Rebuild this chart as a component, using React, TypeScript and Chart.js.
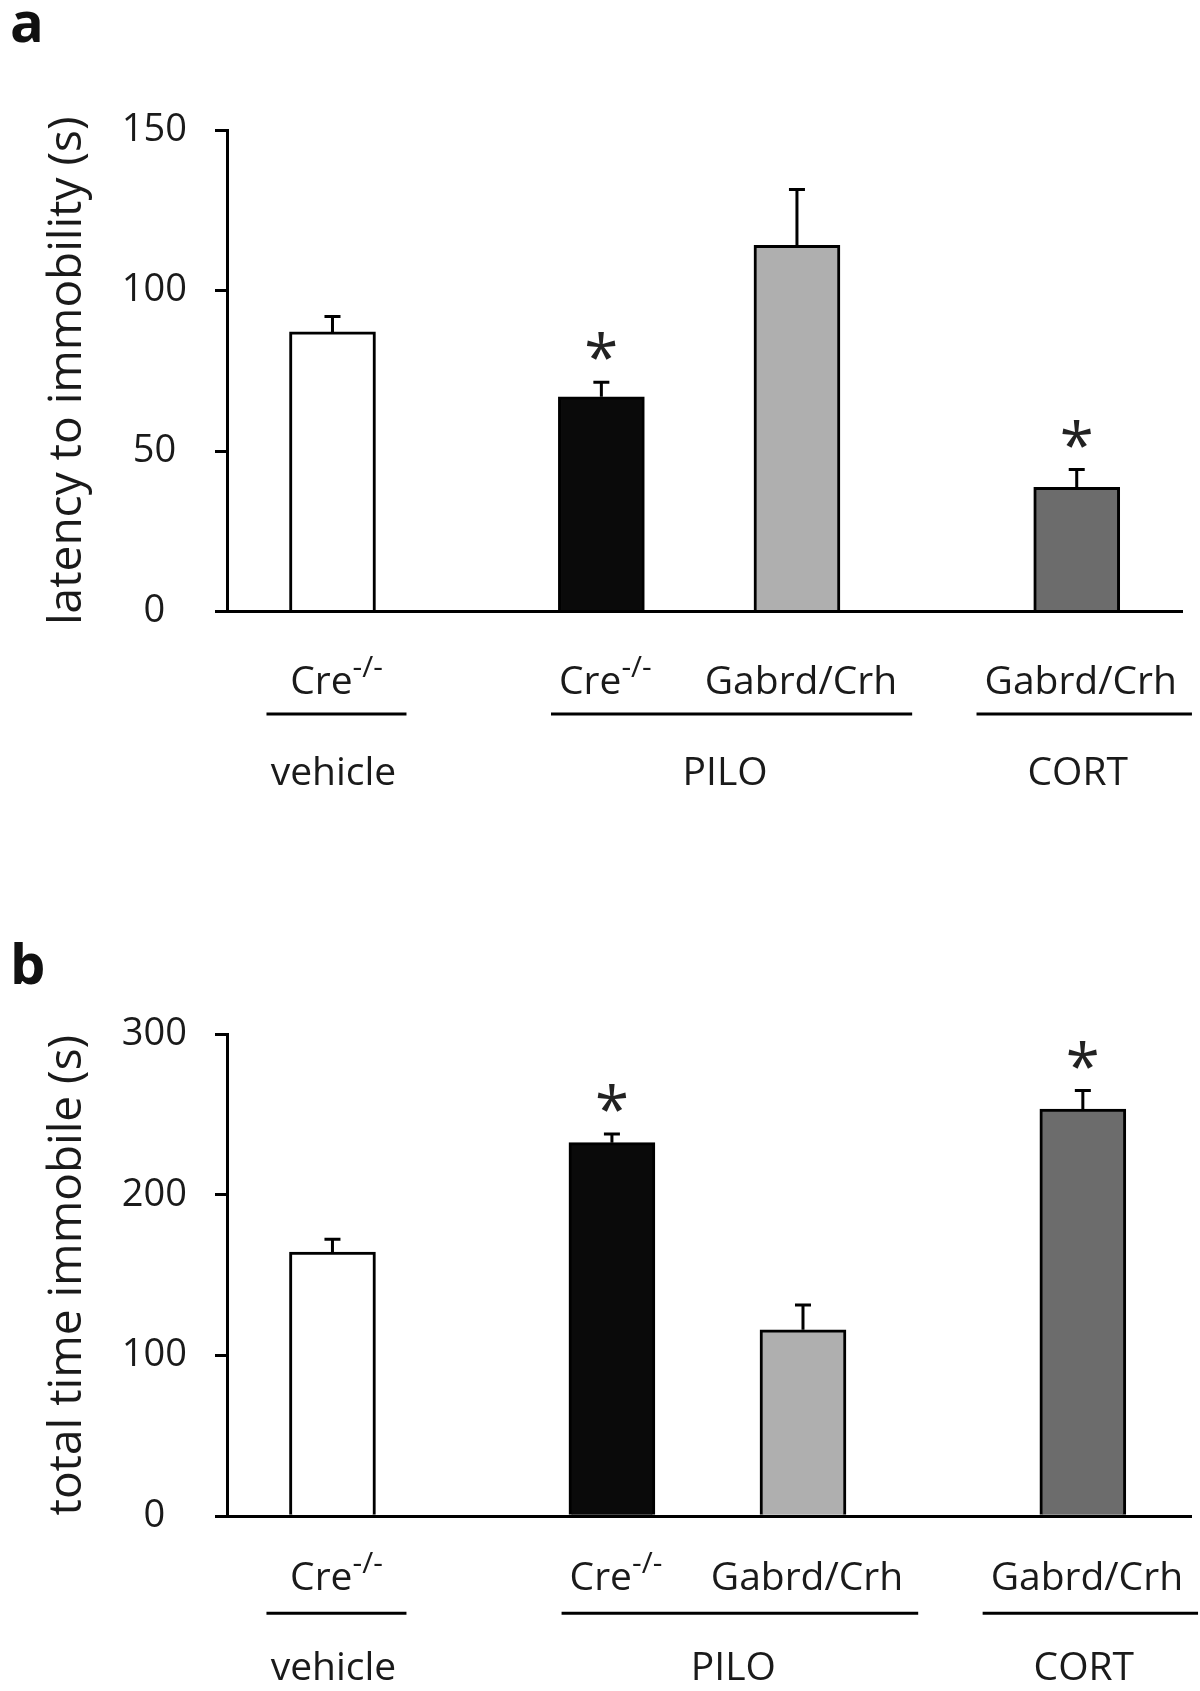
import React, { useEffect, useRef } from "react";
import { Chart, registerables } from "chart.js";

Chart.register(...registerables);

// ---------------- data ----------------
const genotypes = ["Cre-/-", "Cre-/-", "Gabrd/Crh", "Gabrd/Crh"];
const treatments = ["vehicle", "PILO", "PILO", "CORT"];

const latencyMean = [87.1, 66.9, 114.1, 38.7];
const latencySem = [4.8, 4.5, 17.4, 5.5];
const latencySignificant = [false, true, false, true];
const latencyTicks = [0, 50, 100, 150];

const immobileMean = [164.3, 232.4, 116.0, 253.3];
const immobileSem = [8.1, 5.4, 15.5, 11.5];
const immobileSignificant = [false, true, false, true];
const immobileTicks = [0, 100, 200, 300];

// ---------------- styles / layout ----------------
const FONT = '"Open Sans", "Noto Sans", "DejaVu Sans", sans-serif';
const TEXT = "#1a1a1a";
const BAR_FILLS = ["#ffffff", "#0a0a0a", "#afafaf", "#6c6c6c"];

type PanelCfg = {
  letter: string;
  top: number;
  height: number;
  letterBaseline: number;
  chartTop: number;
  chartBottom: number;
  chartRight: number;
  slots: number[];
  means: number[];
  sems: number[];
  sig: boolean[];
  ticks: number[];
  yTitle: string;
  genoBaseline: number;
  lineY: number;
  groupBaseline: number;
};

const panels: PanelCfg[] = [
  {
    letter: "a",
    top: 0,
    height: 850,
    letterBaseline: 41.5,
    chartTop: 130,
    chartBottom: 611.5,
    chartRight: 1182.5,
    slots: [1.104, 3.918, 5.965, 8.893],
    means: latencyMean,
    sems: latencySem,
    sig: latencySignificant,
    ticks: latencyTicks,
    yTitle: "latency to immobility (s)",
    genoBaseline: 694,
    lineY: 714,
    groupBaseline: 785,
  },
  {
    letter: "b",
    top: 850,
    height: 841,
    letterBaseline: 133.6,
    chartTop: 184,
    chartBottom: 666.3,
    chartRight: 1191,
    slots: [1.094, 3.993, 5.975, 8.878],
    means: immobileMean,
    sems: immobileSem,
    sig: immobileSignificant,
    ticks: immobileTicks,
    yTitle: "total time immobile (s)",
    genoBaseline: 740,
    lineY: 763.3,
    groupBaseline: 830,
  },
];

const BAR_W = 86;
const LABEL_SIZE = 39;
const SUP_SIZE = 30;
const LABEL_SHIFT = 4;
const LINE_PAD_L = 8;
const LINE_PAD_R = 15;
const LINE_MIN_W = 140;

function splitLabel(s: string): [string, string] {
  if (s.endsWith("-/-")) return [s.slice(0, -3), "-/-"];
  return [s, ""];
}

function overlayPlugin(cfg: PanelCfg) {
  return {
    id: "overlay" + cfg.letter,
    afterDatasetsDraw(chart: any) {
      const ctx = chart.ctx as CanvasRenderingContext2D;
      const y = chart.scales.y;
      const meta = chart.getDatasetMeta(0);
      ctx.save();
      meta.data.forEach((bar: any, i: number) => {
        const x = bar.x;
        const top = y.getPixelForValue(cfg.means[i] + cfg.sems[i]);
        ctx.strokeStyle = "#000";
        ctx.lineWidth = 3;
        ctx.lineCap = "butt";
        ctx.beginPath();
        ctx.moveTo(x, bar.y);
        ctx.lineTo(x, top);
        ctx.moveTo(x - 8, top);
        ctx.lineTo(x + 8, top);
        ctx.stroke();
        if (cfg.sig[i]) {
          ctx.font = `100px ${FONT}`;
          const m = ctx.measureText("*");
          const w100 = m.actualBoundingBoxLeft + m.actualBoundingBoxRight;
          const size = (100 * 29) / w100;
          ctx.font = `${size}px ${FONT}`;
          const mm = ctx.measureText("*");
          const cy = top - 36;
          ctx.fillStyle = "#222";
          ctx.textAlign = "left";
          ctx.textBaseline = "alphabetic";
          const gx = x - (mm.actualBoundingBoxRight - mm.actualBoundingBoxLeft) / 2;
          const gy = cy + (mm.actualBoundingBoxAscent - mm.actualBoundingBoxDescent) / 2;
          ctx.fillText("*", gx, gy);
        }
      });
      ctx.restore();
    },
    afterDraw(chart: any) {
      const ctx = chart.ctx as CanvasRenderingContext2D;
      const meta = chart.getDatasetMeta(0);
      ctx.save();
      ctx.fillStyle = "#111";
      ctx.textBaseline = "alphabetic";
      ctx.font = `bold 56px ${FONT}`;
      ctx.textAlign = "left";
      ctx.fillText(cfg.letter, 10, cfg.letterBaseline);

      const extents: [number, number][] = [];
      genotypes.forEach((g, i) => {
        const cx = meta.data[i].x + LABEL_SHIFT;
        const [base, sup] = splitLabel(g);
        ctx.font = `${LABEL_SIZE}px ${FONT}`;
        const wb = ctx.measureText(base).width;
        ctx.font = `${SUP_SIZE}px ${FONT}`;
        const ws = sup ? ctx.measureText(sup).width : 0;
        const total = wb + ws;
        const left = cx - total / 2;
        ctx.fillStyle = TEXT;
        ctx.textAlign = "left";
        ctx.font = `${LABEL_SIZE}px ${FONT}`;
        ctx.fillText(base, left, cfg.genoBaseline);
        if (sup) {
          ctx.font = `${SUP_SIZE}px ${FONT}`;
          ctx.fillText(sup, left + wb, cfg.genoBaseline - 17);
        }
        extents.push([left, left + total]);
      });

      let i = 0;
      while (i < treatments.length) {
        let j = i;
        while (j + 1 < treatments.length && treatments[j + 1] === treatments[i]) j++;
        let tl = Infinity;
        let tr = -Infinity;
        for (let k = i; k <= j; k++) {
          tl = Math.min(tl, extents[k][0]);
          tr = Math.max(tr, extents[k][1]);
        }
        let l = tl - LINE_PAD_L;
        let r = tr + LINE_PAD_R;
        if (r - l < LINE_MIN_W) {
          const c = (tl + tr) / 2;
          l = c - LINE_MIN_W / 2;
          r = c + LINE_MIN_W / 2;
        }
        ctx.strokeStyle = "#000";
        ctx.lineWidth = 3;
        ctx.beginPath();
        ctx.moveTo(l, cfg.lineY);
        ctx.lineTo(r, cfg.lineY);
        ctx.stroke();
        ctx.font = `${LABEL_SIZE}px ${FONT}`;
        ctx.textAlign = "center";
        ctx.fillStyle = TEXT;
        ctx.fillText(treatments[i], (tl + tr) / 2 - 3, cfg.groupBaseline);
        i = j + 1;
      }
      ctx.restore();
    },
  };
}

function buildConfig(cfg: PanelCfg): any {
  const yMax = cfg.ticks[cfg.ticks.length - 1];
  return {
    type: "bar",
    data: {
      datasets: [
        {
          data: cfg.slots.map((x, i) => ({ x, y: cfg.means[i] })),
          backgroundColor: BAR_FILLS,
          borderColor: "#000",
          borderWidth: 3,
          borderSkipped: "start",
          barThickness: BAR_W,
        },
      ],
    },
    options: {
      responsive: false,
      animation: false,
      devicePixelRatio: 1,
      layout: {
        padding: {
          top: cfg.chartTop,
          bottom: cfg.height - cfg.chartBottom,
          left: 0,
          right: 1200 - cfg.chartRight,
        },
      },
      plugins: { legend: { display: false }, tooltip: { enabled: false } },
      scales: {
        x: {
          type: "linear",
          min: 0,
          max: 10,
          offset: false,
          grid: { display: false, drawTicks: false, tickLength: 0 },
          ticks: { display: false },
          border: { display: true, width: 3, color: "#000" },
        },
        y: {
          type: "linear",
          min: 0,
          max: yMax,
          afterBuildTicks: (s: any) => {
            s.ticks = cfg.ticks.map((v) => ({ value: v }));
          },
          afterFit: (s: any) => {
            s.width = 227;
          },
          grid: {
            drawOnChartArea: false,
            drawTicks: true,
            tickLength: 12,
            lineWidth: 3,
            tickWidth: 3,
            color: "#000",
            tickColor: "#000",
          },
          border: { display: true, width: 3, color: "#000" },
          ticks: {
            font: { family: FONT, size: 38 },
            color: TEXT,
            padding: 28,
            crossAlign: "center",
          },
          title: {
            display: true,
            text: cfg.yTitle,
            font: { family: FONT, size: 46 },
            color: TEXT,
            padding: { top: 40, bottom: 0 },
          },
        },
      },
    },
    plugins: [overlayPlugin(cfg)],
  };
}

function Panel({ cfg }: { cfg: PanelCfg }) {
  const ref = useRef<HTMLCanvasElement>(null);
  useEffect(() => {
    const chart = new Chart(ref.current as HTMLCanvasElement, buildConfig(cfg));
    return () => chart.destroy();
  }, [cfg]);
  return (
    <canvas
      ref={ref}
      width={1200}
      height={cfg.height}
      style={{ position: "absolute", left: 0, top: cfg.top, width: 1200, height: cfg.height }}
    />
  );
}

export default function App() {
  return (
    <div
      style={{
        position: "absolute",
        left: 0,
        top: 0,
        width: 1200,
        height: 1691,
        background: "#fff",
        overflow: "hidden",
      }}
    >
      {panels.map((p) => (
        <Panel key={p.letter} cfg={p} />
      ))}
    </div>
  );
}
